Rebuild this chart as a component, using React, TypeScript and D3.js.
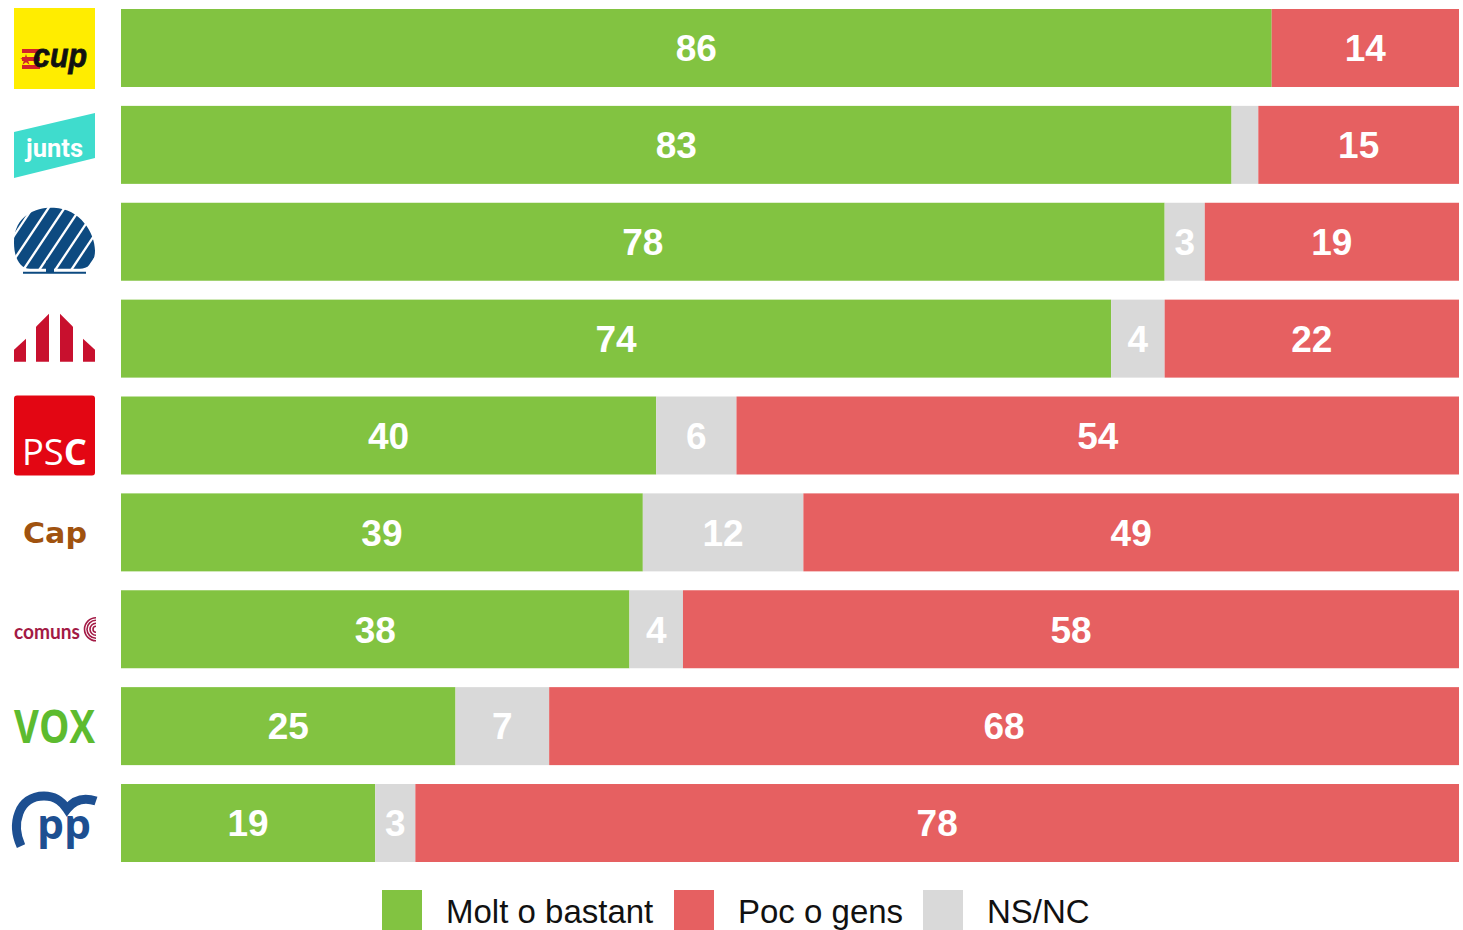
import React from "react";
import * as d3 from "d3";

const parties = ["CUP", "Junts", "PDeCAT", "ERC", "PSC", "Cap", "Comuns", "Vox", "PP"];
const moltBastant = [86, 83, 78, 74, 40, 39, 38, 25, 19];
const nsnc = [0, 2, 3, 4, 6, 12, 4, 7, 3];
const pocGens = [14, 15, 19, 22, 54, 49, 58, 68, 78];
const seriesNames = ["Molt o bastant", "NS/NC", "Poc o gens"];
const legendOrder = ["Molt o bastant", "Poc o gens", "NS/NC"];

const COLORS: Record<string, string> = {
  "Molt o bastant": "#82c341",
  "Poc o gens": "#e66061",
  "NS/NC": "#d9d9d9",
};

const W = 1463;
const H = 930;
const FONT = "'Liberation Sans', Arial, sans-serif";

function Logo({ name, t }: { name: string; t: number }) {
  switch (name) {
    case "CUP":
      return (
        <g>
          <rect x={14} y={t - 1} width={81} height={81} fill="#ffed00" />
          {[0, 1, 2].map((i) => (
            <rect key={i} x={22} y={t + 40 + i * 8} width={18} height={4} fill="#d2232a" />
          ))}
          <path
            d={d3.symbol().type(d3.symbolStar).size(40)() || ""}
            transform={`translate(26,${t + 51})`}
            fill="#d2232a"
          />
          <text
            x={33}
            y={t + 58}
            fontFamily={FONT}
            fontWeight="bold"
            fontStyle="italic"
            fontSize={34}
            textLength={54}
            lengthAdjust="spacingAndGlyphs"
            fill="#111"
            stroke="#111"
            strokeWidth={0.8}
          >
            cup
          </text>
        </g>
      );
    case "Junts":
      return (
        <g>
          <polygon points={`14,${t + 26} 95,${t + 7} 95,${t + 52} 14,${t + 72}`} fill="#3fdccd" />
          <text
            x={26}
            y={t + 51}
            fontFamily="Roboto, sans-serif"
            fontWeight="bold"
            fontSize={26}
            textLength={57}
            lengthAdjust="spacingAndGlyphs"
            fill="#fff"
          >
            junts
          </text>
        </g>
      );
    case "PDeCAT": {
      const cid = "treeclip";
      return (
        <g>
          <defs>
            <clipPath id={cid}>
              <path
                d={`M 14 ${t + 40} C 14 ${t + 10}, 40 ${t + 4}, 54 ${t + 5} C 80 ${t + 6}, 95 ${t + 30}, 95 ${t + 48} C 95 ${t + 60}, 88 ${t + 66}, 80 ${t + 66} L 30 ${t + 66} C 20 ${t + 66}, 14 ${t + 55}, 14 ${t + 40} Z`}
              />
            </clipPath>
          </defs>
          <g clipPath={`url(#${cid})`}>
            {d3.range(-4, 8).map((i) => (
              <line
                key={i}
                x1={10 + i * 16}
                y1={t + 75}
                x2={60 + i * 16}
                y2={t + 0}
                stroke="#0d4a80"
                strokeWidth={11}
              />
            ))}
          </g>
          <rect x={46} y={t + 58} width={8} height={12} fill="#0d4a80" />
          <rect x={23} y={t + 69} width={63} height={2} fill="#0d4a80" />
        </g>
      );
    }
    case "ERC":
      return (
        <g fill="#c8102e">
          <polygon points={`14,${t + 50} 26,${t + 39} 26,${t + 62} 14,${t + 62}`} />
          <polygon points={`36,${t + 27} 49,${t + 14} 49,${t + 62} 36,${t + 62}`} />
          <polygon points={`60,${t + 14} 73,${t + 27} 73,${t + 62} 60,${t + 62}`} />
          <polygon points={`83,${t + 39} 95,${t + 50} 95,${t + 62} 83,${t + 62}`} />
        </g>
      );
    case "PSC":
      return (
        <g>
          <rect x={14} y={t - 1} width={81} height={80} rx={3} fill="#e30613" />
          <text
            x={22}
            y={t + 68}
            fontFamily="'Open Sans', sans-serif"
            fontSize={36}
            textLength={65}
            lengthAdjust="spacingAndGlyphs"
            fill="#fff"
          >
            PS<tspan fontWeight="bold">C</tspan>
          </text>
        </g>
      );
    case "Cap":
      return (
        <text
          x={23}
          y={t + 50}
          fontFamily="'DejaVu Sans', sans-serif"
          fontWeight="bold"
          fontSize={29}
          textLength={64}
          lengthAdjust="spacingAndGlyphs"
          fill="#a0520f"
        >
          Cap
        </text>
      );
    case "Comuns":
      return (
        <g>
          <text
            x={14}
            y={t + 49}
            fontFamily="Lato, sans-serif"
            fontWeight="bold"
            fontSize={20}
            textLength={66}
            lengthAdjust="spacingAndGlyphs"
            fill="#a31a45"
          >
            comuns
          </text>
          {[3, 6, 9, 11.5].map((r) => (
            <path
              key={r}
              d={
                d3.arc()({
                  innerRadius: r - 0.8,
                  outerRadius: r + 0.8,
                  startAngle: Math.PI,
                  endAngle: 2 * Math.PI,
                }) || ""
              }
              transform={`translate(96,${t + 39})`}
              fill="#a31a45"
            />
          ))}
        </g>
      );
    case "Vox":
      return (
        <text
          x={14}
          y={t + 56}
          fontFamily="'Open Sans', sans-serif"
          fontWeight="bold"
          fontSize={46}
          fill="#5dbb2f"
          textLength={81}
          lengthAdjust="spacingAndGlyphs"
        >
          VOX
        </text>
      );
    case "PP":
      return (
        <g>
          <path
            d={`M 21 ${t + 62} C 11 ${t + 40}, 18 ${t + 12}, 44 ${t + 12} C 57 ${t + 12}, 63 ${t + 19}, 67 ${t + 25} C 74 ${t + 16}, 84 ${t + 13}, 96 ${t + 17}`}
            fill="none"
            stroke="#1d4f91"
            strokeWidth={9}
          />
          <text
            x={37}
            y={t + 55}
            fontFamily="'Open Sans', sans-serif"
            fontWeight="bold"
            fontSize={42}
            textLength={54}
            lengthAdjust="spacingAndGlyphs"
            fill="#1d4f91"
          >
            pp
          </text>
        </g>
      );
    default:
      return null;
  }
}

export default function App() {
  const x = d3.scaleLinear().domain([0, 100]).range([121, 1459]);
  const y = d3.scaleBand<string>().domain(parties).range([9, 862]).paddingInner(0.195).paddingOuter(0);

  const rows = parties.map((p, i) => ({
    party: p,
    values: { "Molt o bastant": moltBastant[i], "NS/NC": nsnc[i], "Poc o gens": pocGens[i] } as Record<string, number>,
  }));

  const stacked = d3
    .stack<any>()
    .keys(seriesNames)
    .value((d, k) => d.values[k])(rows);

  const legendX = [382, 674, 923];

  return (
    <svg width={W} height={H} style={{ position: "absolute", left: 0, top: 0, background: "#fff" }}>
      {stacked.map((s) => (
        <g key={s.key}>
          {s.map((d, i) => {
            const v = d[1] - d[0];
            if (v <= 0) return null;
            const x0 = x(d[0]);
            const x1 = x(d[1]);
            const yy = y(parties[i])!;
            return (
              <g key={i}>
                <rect x={x0} y={yy} width={x1 - x0} height={y.bandwidth()} fill={COLORS[s.key]} />
                {v >= 3 && (
                  <text
                    x={(x0 + x1) / 2}
                    y={yy + y.bandwidth() / 2}
                    dy="0.36em"
                    textAnchor="middle"
                    fontFamily={FONT}
                    fontWeight="bold"
                    fontSize={37}
                    fill="#fff"
                  >
                    {v}
                  </text>
                )}
              </g>
            );
          })}
        </g>
      ))}
      {parties.map((p) => (
        <Logo key={p} name={p} t={y(p)!} />
      ))}
      {legendOrder.map((k, i) => (
        <g key={k}>
          <rect x={legendX[i]} y={890} width={40} height={40} fill={COLORS[k]} />
          <text x={legendX[i] + 64} y={923} fontFamily={FONT} fontSize={33} fill="#111">
            {k}
          </text>
        </g>
      ))}
    </svg>
  );
}
